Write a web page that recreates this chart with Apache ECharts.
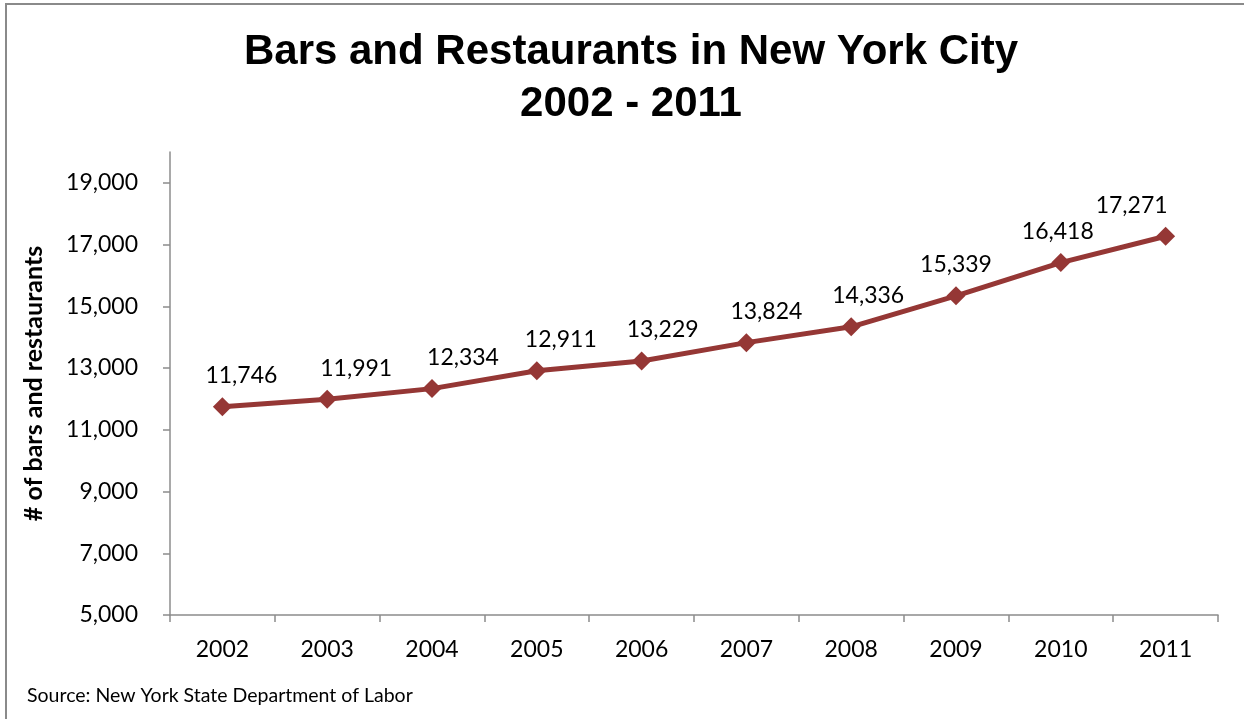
<!DOCTYPE html>
<html>
<head>
<meta charset="utf-8">
<script src="https://cdn.jsdelivr.net/npm/echarts@6/dist/echarts.min.js"></script>
<style>
  html, body { margin: 0; padding: 0; background: #fff; }
  #chart { width: 1244px; height: 719px; }
</style>
</head>
<body>
<div id="chart"></div>
<script>
// Number of bars and restaurants in New York City, by year
const years = ['2002', '2003', '2004', '2005', '2006', '2007', '2008', '2009', '2010', '2011'];
const establishments = [11746, 11991, 12334, 12911, 13229, 13824, 14336, 15339, 16418, 17271];
const yTicks = [5000, 7000, 9000, 11000, 13000, 15000, 17000, 19000];

// Horizontal nudge (px) of each value label relative to its marker
const labelShiftX = [19, 29, 31, 24, 21, 20, 17, 0, -3, -34];

const labelFont = 'Lato, "Open Sans", sans-serif';
const lineColor = '#953735';

const chart = echarts.init(document.getElementById('chart'), null, { renderer: 'canvas' });

const fmt = v => v.toLocaleString('en-US');

chart.setOption({
  animation: false,
  backgroundColor: '#ffffff',
  title: {
    text: 'Bars and Restaurants in New York City\n2002 - 2011',
    left: 626,
    textAlign: 'center',
    top: 21,
    textStyle: {
      fontFamily: '"Liberation Sans", Arial, sans-serif',
      fontWeight: 'bold',
      fontSize: 42,
      lineHeight: 52,
      color: '#000'
    }
  },
  graphic: [
    {
      type: 'rect',
      shape: { x: 6, y: 4, width: 1260, height: 740 },
      style: { fill: 'none', stroke: '#8a8a8a', lineWidth: 2 },
      silent: true
    },
    {
      type: 'text',
      left: 27,
      top: 686,
      style: {
        text: 'Source: New York State Department of Labor',
        font: '19.5px ' + labelFont,
        fill: '#000'
      }
    }
  ],
  grid: { left: 170, right: 26, top: 152, bottom: 104, containLabel: false },
  xAxis: {
    type: 'category',
    data: years,
    boundaryGap: true,
    axisLine: { lineStyle: { color: '#8c8c8c', width: 1.5 } },
    axisTick: { show: true, alignWithLabel: false, length: 7, lineStyle: { color: '#8c8c8c', width: 1.5 } },
    axisLabel: { margin: 23, fontSize: 23, fontFamily: labelFont, color: '#000' },
    splitLine: { show: false }
  },
  yAxis: {
    type: 'value',
    min: 5000,
    max: 20000,
    name: '# of bars and restaurants',
    nameLocation: 'middle',
    nameGap: 124,
    nameRotate: 90,
    nameTextStyle: { fontSize: 25, fontWeight: 'bold', fontFamily: labelFont, color: '#000' },
    axisLine: { show: true, lineStyle: { color: '#8c8c8c', width: 1.5 } },
    axisTick: { show: true, length: 7, customValues: yTicks, lineStyle: { color: '#8c8c8c', width: 1.5 } },
    axisLabel: {
      customValues: yTicks,
      margin: 32,
      fontSize: 23,
      fontFamily: labelFont,
      color: '#000',
      formatter: v => fmt(v)
    },
    splitLine: { show: false }
  },
  series: [{
    type: 'line',
    data: establishments.map((v, i) => ({ value: v, label: { offset: [labelShiftX[i], 0] } })),
    symbol: 'diamond',
    symbolSize: 19,
    lineStyle: { color: lineColor, width: 5 },
    itemStyle: { color: lineColor },
    label: {
      show: true,
      position: 'top',
      distance: 10,
      fontSize: 23,
      fontFamily: labelFont,
      color: '#000',
      formatter: p => fmt(p.value)
    }
  }]
});
</script>
</body>
</html>
